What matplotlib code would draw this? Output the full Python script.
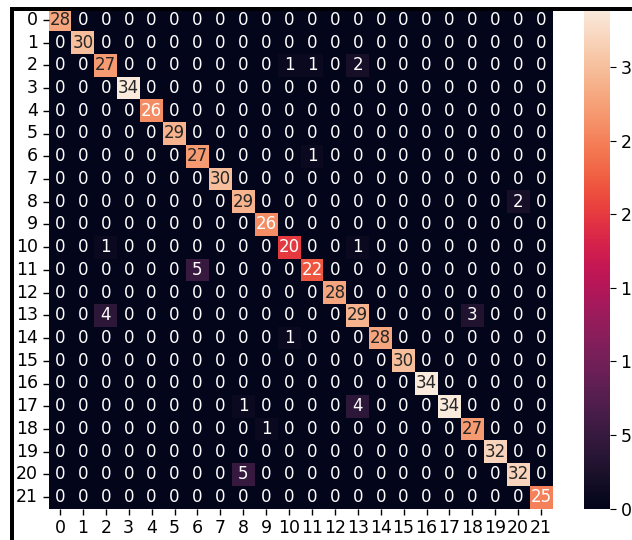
import numpy as np
import matplotlib
matplotlib.use('Agg')
import matplotlib.pyplot as plt
from matplotlib.patches import Rectangle
import seaborn as sns

# class labels 0..21
labels = [str(i) for i in range(22)]

# correct predictions (diagonal)
diag = [28, 30, 27, 34, 26, 29, 27, 30, 29, 26, 20, 22, 28, 29, 28, 30, 34, 34, 27, 32, 32, 25]

# misclassifications (true row, predicted col, count)
off_rows = [2, 2, 2, 6, 8, 10, 10, 11, 13, 13, 14, 17, 17, 18, 20]
off_cols = [10, 11, 13, 11, 20, 2, 13, 6, 2, 18, 10, 8, 13, 9, 8]
off_vals = [1, 1, 2, 1, 2, 1, 1, 5, 4, 3, 1, 1, 4, 1, 5]

cm = np.diag(diag)
for r, c, v in zip(off_rows, off_cols, off_vals):
    cm[r, c] = v

W, H = 632, 540
fig = plt.figure(figsize=(W / 100, H / 100), dpi=100)
fig.patch.set_facecolor('white')

ax = fig.add_axes([48.5 / W, (H - 508.5) / H, 504 / W, 500 / H])
cax = fig.add_axes([584 / W, (H - 508.5) / H, 26 / W, 500 / H])

sns.heatmap(cm, annot=True, fmt='d', ax=ax, cbar_ax=cax,
            xticklabels=labels, yticklabels=labels,
            annot_kws={'fontsize': 12})

ax.tick_params(axis='both', labelsize=12.5, length=4, width=1)
ax.set_yticklabels(labels, rotation=0)
ax.set_xticklabels(labels, rotation=0)
cax.tick_params(labelsize=12.5, length=4)
cax.set_yticks([0, 5, 10, 15, 20, 25, 30])

# frame lines from the document crop
fig.add_artist(Rectangle((10 / W, 0), 4 / W, (H - 7) / H, transform=fig.transFigure,
                         color='black', lw=0))
fig.add_artist(Rectangle((10 / W, (H - 11) / H), (W - 10) / W, 4 / H,
                         transform=fig.transFigure, color='black', lw=0))

plt.savefig('out.png', dpi=100)
